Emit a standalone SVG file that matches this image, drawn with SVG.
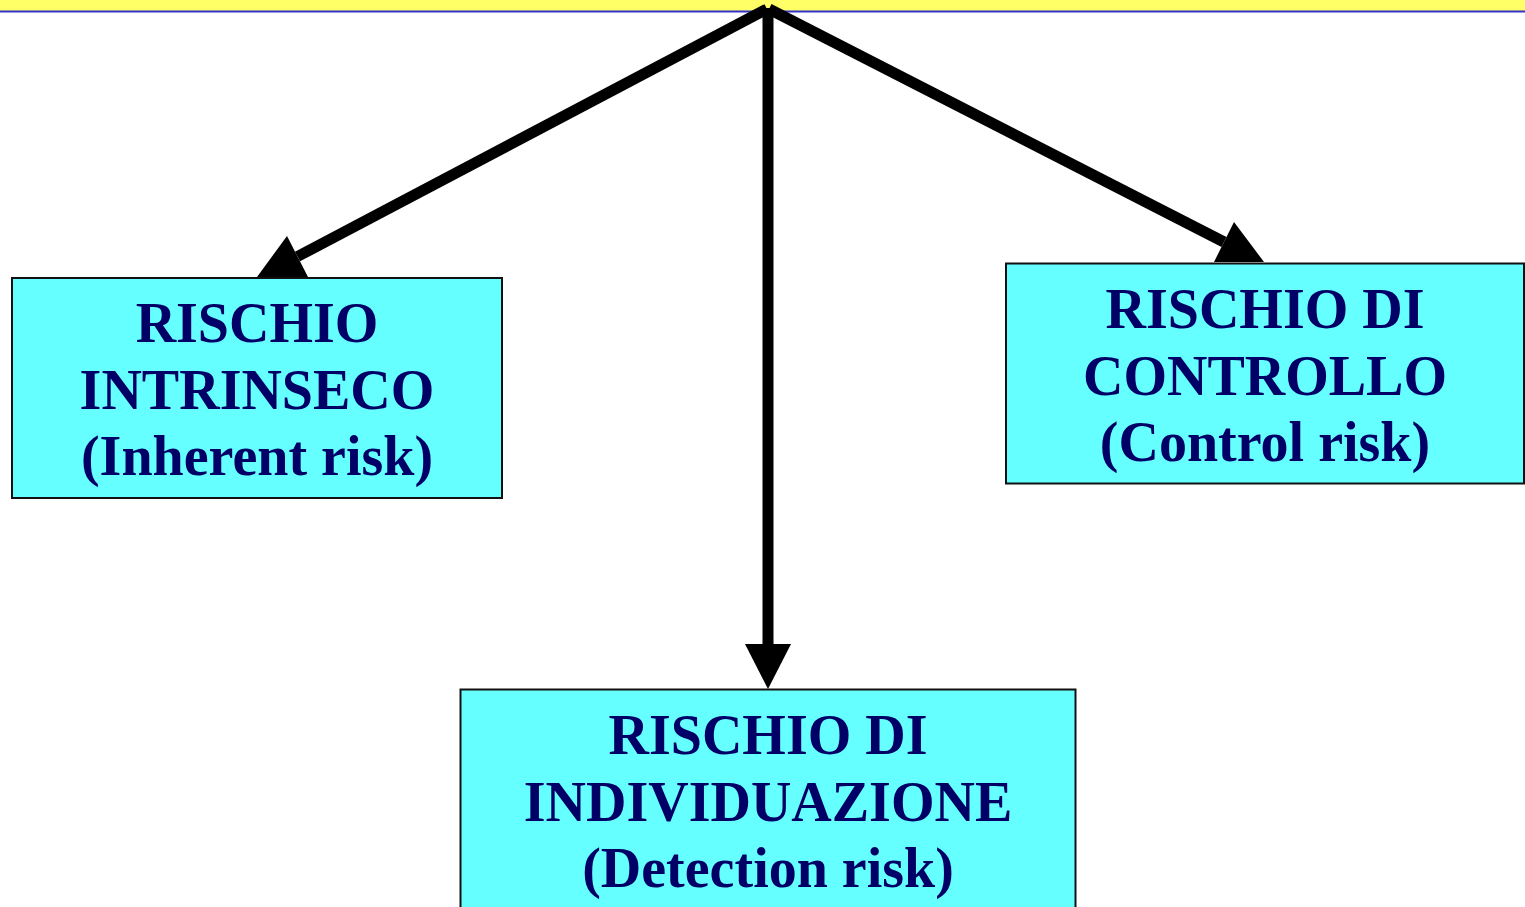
<svg xmlns="http://www.w3.org/2000/svg" width="1525" height="907" viewBox="0 0 1525 907">
<style>
.box{fill:#66FFFF;stroke:#111;stroke-width:2}
.lbl{font-family:"Liberation Serif","Times New Roman",serif;font-weight:bold;font-size:56px;fill:#000066;text-anchor:middle}
.con{stroke:#000;stroke-width:11;fill:none;stroke-linecap:butt}
.head{fill:#000}
</style>
<rect x="0" y="0" width="1525" height="907" fill="#fff"/>
<g id="topbar">
<rect x="0" y="0" width="1525" height="11" fill="#FFFF66"/>
<line x1="0" y1="11.5" x2="1525" y2="11.5" stroke="#3333CC" stroke-width="2"/>
</g>
<g id="connectors">
<line class="con" x1="767" y1="9" x2="297.5" y2="256.5"/>
<polygon class="head" points="287,236 308,277 257,277"/>
<line class="con" x1="769" y1="9" x2="1224" y2="242"/>
<polygon class="head" points="1234,222 1214,262 1264,262"/>
<line class="con" x1="768" y1="8" x2="768" y2="646"/>
<polygon class="head" points="745,644 791,644 768,689"/>
</g>
<g id="inherent">
<rect class="box" x="12" y="278" width="490" height="220"/>
<text class="lbl" x="257" y="342">RISCHIO</text>
<text class="lbl" x="257" y="409">INTRINSECO</text>
<text class="lbl" x="257" y="475">(Inherent risk)</text>
</g>
<g id="control">
<rect class="box" x="1006" y="263.5" width="518" height="220"/>
<text class="lbl" x="1265" y="328">RISCHIO DI</text>
<text class="lbl" x="1265" y="395">CONTROLLO</text>
<text class="lbl" x="1265" y="461">(Control risk)</text>
</g>
<g id="detection">
<rect class="box" x="460.5" y="689.5" width="615" height="230"/>
<text class="lbl" x="768" y="754">RISCHIO DI</text>
<text class="lbl" x="768" y="821">INDIVIDUAZIONE</text>
<text class="lbl" x="768" y="887">(Detection risk)</text>
</g>
</svg>
